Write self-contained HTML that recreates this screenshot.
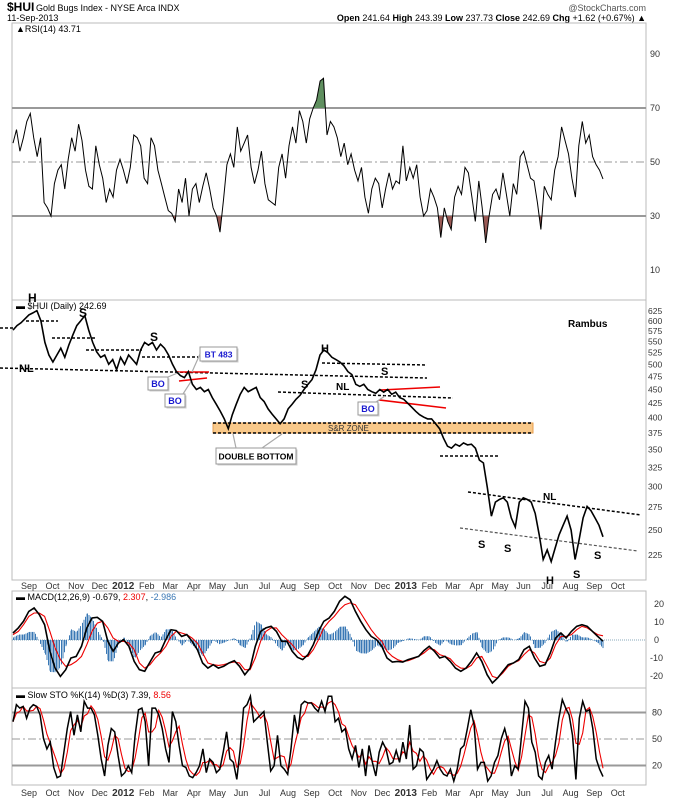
<!DOCTYPE html>
<html><head><meta charset="utf-8">
<style>
html,body{margin:0;padding:0;background:#fff;}
body{width:674px;height:800px;overflow:hidden;font-family:"Liberation Sans",sans-serif;}
svg text{font-family:"Liberation Sans",sans-serif;}
</style></head>
<body>
<svg id="chart" width="674" height="800" viewBox="0 0 674 800" xmlns="http://www.w3.org/2000/svg">
<defs>
<clipPath id="rsiAbove"><rect x="0" y="0" width="674" height="108"/></clipPath>
<clipPath id="rsiBelow"><rect x="0" y="216" width="674" height="90"/></clipPath>
</defs>
<g>
<text x="7" y="11" font-size="12" font-weight="bold" fill="#000">$HUI</text>
<text x="36" y="11" font-size="9" fill="#000">Gold Bugs Index - NYSE Arca INDX</text>
<text x="7" y="21" font-size="9" fill="#000">11-Sep-2013</text>
<text x="646" y="11" font-size="9" fill="#555" text-anchor="end">@StockCharts.com</text>
<text x="646" y="21" font-size="9" fill="#000" text-anchor="end"><tspan font-weight="bold">Open</tspan> 241.64 <tspan font-weight="bold">High</tspan> 243.39 <tspan font-weight="bold">Low</tspan> 237.73 <tspan font-weight="bold">Close</tspan> 242.69 <tspan font-weight="bold">Chg</tspan> +1.62 (+0.67%) ▲</text>
</g>
<rect x="12" y="23" width="634" height="277" fill="none" stroke="#bbb"/>
<rect x="12" y="300" width="634" height="280" fill="none" stroke="#bbb"/>
<rect x="12" y="591" width="634" height="97" fill="none" stroke="#bbb"/>
<rect x="12" y="688" width="634" height="97" fill="none" stroke="#bbb"/>

<g id="rsiG"></g>
<g id="priceAnn"></g>
<g id="priceG"></g>
<g id="macdG"></g>
<g id="stoG"></g>
<g id="axes"></g>
</svg>
<script>
// ---------- DATA ----------
const monthLabels = ["Sep","Oct","Nov","Dec","2012","Feb","Mar","Apr","May","Jun","Jul","Aug","Sep","Oct","Nov","Dec","2013","Feb","Mar","Apr","May","Jun","Jul","Aug","Sep","Oct"];
const priceTicks = [625,600,575,550,525,500,475,450,425,400,375,350,325,300,275,250,225];
const rsiTicks = [90,70,50,30,10];
const macdTicks = [20,10,0,-10,-20];
const stoTicks = [80,50,20];

const priceValues = [577,588,595,605,615,620,626,600,548,520,505,520,535,515,542,565,588,600,613,577,548,527,515,520,500,510,489,515,500,520,510,500,531,548,542,548,531,544,535,520,500,485,477,473,485,460,450,454,446,450,435,423,411,398,382,405,423,441,454,446,450,454,435,428,415,406,398,390,398,415,423,432,439,450,460,469,489,520,531,525,515,510,505,497,485,479,460,456,460,450,446,443,450,445,450,441,445,435,432,425,418,411,405,401,398,398,390,382,367,355,352,358,355,360,357,358,352,335,331,298,265,281,284,286,281,263,253,281,286,284,281,268,245,221,230,219,232,245,255,265,250,221,240,263,276,271,263,255,243];

const rsiValues = [57,62,54,59,65,68,59,52,59,35,33,30,42,47,49,40,51,59,54,64,58,47,41,40,56,49,44,35,40,37,47,51,47,42,48,60,59,56,44,42,59,56,47,42,37,32,31,28,40,35,44,30,40,42,35,41,46,40,33,30,24,36,49,53,48,63,54,57,60,48,42,47,54,42,36,35,34,48,53,44,56,63,57,69,65,57,66,70,73,80,81,60,65,63,59,52,57,49,53,47,43,48,37,31,40,44,42,33,40,46,40,43,42,56,43,48,44,49,37,30,32,40,37,33,22,33,28,25,37,41,38,48,46,37,28,43,33,20,30,38,40,36,46,38,30,42,38,52,54,49,44,43,35,25,41,38,36,47,52,63,58,53,44,37,56,65,57,60,52,49,47,43.7];

const macdValues = [3.9,6.7,10.4,15.9,17.8,14.1,8.5,-6.3,-15.6,-20.2,-16.5,-10,-9.1,-3.5,6.7,12.2,12.6,10.4,-0.7,-6.3,-1.7,0.2,-3.5,-11.9,-16.5,-17.4,-12.2,-7.2,-6.3,0.2,5.7,5.2,2,3,-0.7,-5.4,-12.8,-15.6,-13.7,-15.6,-14.6,-12.8,-11.5,-14.6,-19.3,-15.6,-3.5,4.8,6.7,7.6,4.8,-0.7,-0.7,-6.3,-9.6,-10.9,-8.1,-2.6,4.8,10.4,12.2,15.9,21.5,24.3,22.4,15.9,10.4,5.7,2,0.2,-3.5,-10,-12.2,-11.9,-12.2,-10.9,-10,-9.1,-5.9,-3.5,-6.3,-10,-9.1,-11.9,-15.6,-17.4,-15.6,-11.9,-7.2,-11.9,-19.3,-23.9,-21.1,-17.4,-13.7,-12.8,-10.9,-5.4,-3.5,-10,-14.6,-13.7,-7.2,1.1,3.9,1.1,4.8,7.6,8.5,7.6,4.8,2,-0.679];
const signalValues = [3,4.8,8.5,13.1,15,15,13.1,4.8,-4.4,-10.9,-14.6,-13.7,-11.9,-9.1,-2.6,4.8,9.4,10.4,6.7,1.1,-0.7,-0.7,-1.7,-5.4,-12.8,-15.6,-13.7,-10,-7.2,-3.5,2,4.8,3.9,3,1.1,-1.7,-7.2,-12.8,-13.7,-14.1,-13.7,-12.8,-12.2,-12.8,-16.5,-16.5,-10,-0.7,4.8,6.7,6.7,3,0.2,-2.6,-6.3,-9.1,-9.1,-5.4,0.2,6.7,10.4,13.1,16.9,19.6,20.6,19.6,15,10.4,5.7,2,-0.7,-6.3,-9.1,-10.9,-11.9,-11.5,-10.4,-9.1,-7.2,-4.8,-5.4,-8.1,-9.1,-10.4,-13.7,-15.6,-15.9,-14.1,-10,-9.1,-14.6,-20.2,-21.1,-18.3,-14.6,-12.8,-11.5,-8.1,-5.4,-7.2,-11.9,-12.8,-10,-2.6,2,2,3,5.7,7.6,6.7,4.8,3,2.307];

const stoKValues = [69.6,88.8,85,86.9,73.5,85,88.8,86.9,77.3,50.4,38.8,46.5,17.7,6.2,8.1,35,61.9,81.2,54.2,77.3,58.1,92.7,85,85,77.3,54.2,27.3,8.1,42.7,61.9,58.1,31.2,8.1,11.9,19.6,11.9,54.2,83.1,85,69.6,19.6,85,85,77.3,61.9,38.8,23.5,81.2,69.6,42.7,19.6,17.7,8.1,6.2,11.9,19.6,38.8,11.9,27.3,23.5,11.9,15.8,35,58.1,27.3,23.5,4.2,38.8,85,88.8,98.5,69.6,73.5,77.3,81.2,46.5,13.8,19.6,54.2,19.6,15.8,10,38.8,77.3,56.2,88.8,92.7,90.8,90.8,85,81.2,92.7,81.2,98.5,98.5,69.6,73.5,58.1,61.9,38.8,27.3,42.7,17.7,38.8,8.1,42.7,23.5,8.1,35,46.5,38.8,21.5,23.5,36.9,23.5,46.5,27.3,65.8,15.8,19.6,38.8,35,4.2,10,15.8,25.4,15.8,10,8.1,15.8,2.3,15.8,38.8,42.7,61.9,83.1,65.8,15.8,23.5,23.5,2.3,8.1,23.5,31.2,50.4,61.9,46.5,8.1,19.6,15.8,54.2,92.7,85,46.5,35,8.1,4.2,23.5,31.2,15.8,46.5,73.5,94.6,85,77.3,54.2,4.2,73.5,92.7,81.2,83.1,61.9,27.3,15.8,7.39];

// ---------- SCALES ----------
const X0 = 13, X1 = 603;
function xIdx(i, n){ return X0 + (X1 - X0) * i / (n - 1); }
const monthX0 = 29, monthStep = 23.55;
function xMonth(i){ return monthX0 + monthStep * i; }
function yRsi(v){ return 162 - (v - 50) * 2.7; }
function yPrice(p){ return 530 - 239 * Math.log(p / 250); }
function yMacd(v){ return 640 - v * 1.8; }
function ySto(v){ return 739 - (v - 50) * 0.883; }

const NS = "http://www.w3.org/2000/svg";
function mk(tag, attrs, parent){
  const e = document.createElementNS(NS, tag);
  for (const k in attrs) e.setAttribute(k, attrs[k]);
  parent.appendChild(e);
  return e;
}
function pts(arr, yf){ return arr.map((v,i)=>xIdx(i,arr.length).toFixed(1)+","+yf(v).toFixed(1)).join(" "); }

// ---------- RSI ----------
const rsiG = document.getElementById("rsiG");
[70,30].forEach(v=>{
  const l = mk("line",{x1:12,x2:646,y1:yRsi(v),y2:yRsi(v),stroke:"#999","stroke-width":2},rsiG);
  
  
});
const mid = mk("line",{x1:12,x2:646,y1:yRsi(50),y2:yRsi(50),stroke:"#999","stroke-width":1,"stroke-dasharray":"8,3,2,3"},rsiG);


const rsiN = rsiValues.length;
const areaTop = xIdx(0,rsiN)+","+yRsi(70)+" "+pts(rsiValues,yRsi)+" "+xIdx(rsiN-1,rsiN)+","+yRsi(70);
const ga = mk("polygon",{points:areaTop,fill:"#5f8f5f","clip-path":"url(#rsiAbove)"},rsiG);


const areaBot = xIdx(0,rsiN)+","+yRsi(30)+" "+pts(rsiValues,yRsi)+" "+xIdx(rsiN-1,rsiN)+","+yRsi(30);
const ra = mk("polygon",{points:areaBot,fill:"#9a5a55","clip-path":"url(#rsiBelow)"},rsiG);


const rl = mk("polyline",{points:pts(rsiValues,yRsi),fill:"none",stroke:"#000","stroke-width":1},rsiG);


const rt = mk("text",{x:16,y:32,"font-size":9,fill:"#000"},rsiG);
rt.textContent = "▲RSI(14) 43.71";


rsiTicks.forEach(v=>{
  const t = mk("text",{x:650,y:yRsi(v)+3,"font-size":9,fill:"#333"},rsiG);
  t.textContent = v;
  
  
});

// ---------- PRICE ----------
const priceG = document.getElementById("priceG");
const pl = mk("polyline",{points:pts(priceValues,yPrice),fill:"none",stroke:"#000","stroke-width":1.6},priceG);


const ptl = mk("text",{x:16,y:309,"font-size":9,fill:"#000"},priceG);
ptl.textContent = "▬ $HUI (Daily) 242.69";


priceTicks.forEach(v=>{
  const t = mk("text",{x:648,y:yPrice(v)+3,"font-size":8.5,fill:"#333"},priceG);
  t.textContent = v;
  
  
});

// annotations
const ann = document.getElementById("priceAnn");
const zone = mk("rect",{x:213,y:423,width:320,height:10,fill:"#f9c98a",stroke:"#e8a050"},ann);


const dashed = [[0,328,13,328],[26,321,58,321],[52,338,97,338],[86,350,142,350],[142,357,198,357],[0,368,427,378],[278,392,453,398],[213,423,533,423],[213,433,533,433],[440,456,498,456],[468,492,641,515],[322,363,427,365]];
dashed.forEach(d=>{
  const l = mk("line",{x1:d[0],y1:d[1],x2:d[2],y2:d[3],stroke:"#000","stroke-width":1.5,"stroke-dasharray":"3,2"},ann);
  
  
});
const gl = mk("line",{x1:460,y1:528,x2:638,y2:551,stroke:"#555","stroke-width":1.2,"stroke-dasharray":"3,2"},ann);


[[177,372,209,372],[179,381,207,378],[381,390,440,387],[379,400,446,408]].forEach(d=>{
  const l = mk("line",{x1:d[0],y1:d[1],x2:d[2],y2:d[3],stroke:"#e00","stroke-width":1.6},ann);
  
  
});
const labels = [["H",28,302,12],["S",79,317,12],["S",150,341,12],["H",321,352,11],["S",381,375,11],["S",301,388,11],["NL",19,372,11],["NL",336,390,10],["NL",543,500,10],["S",478,548,11],["S",504,552,11],["S",594,559,11],["H",546,584,11],["S",573,578,11],["Rambus",568,327,10]];
labels.forEach(a=>{
  const t = mk("text",{x:a[1],y:a[2],"font-size":a[3],"font-weight":"bold",fill:"#000"},ann);
  t.textContent = a[0];
  
  
});
const callouts = [["BT 483",200,347,37,14,"#1a1ad0"],["BO",148,377,20,13,"#1a1ad0"],["BO",165,394,20,13,"#1a1ad0"],["BO",358,402,20,13,"#1a1ad0"],["DOUBLE BOTTOM",216,448,80,16,"#000"]];
callouts.forEach(c=>{
  mk("rect",{x:c[1]+1.5,y:c[2]+1.5,width:c[3],height:c[4],fill:"#ccc"},ann);
  const r = mk("rect",{x:c[1],y:c[2],width:c[3],height:c[4],fill:"#fff",stroke:"#999"},ann);
  
  
  const t = mk("text",{x:c[1]+c[3]/2,y:c[2]+c[4]/2+3.5,"font-size":c[0].length>5?8.5:9,"font-weight":"bold",fill:c[5],"text-anchor":"middle"},ann);
  t.textContent = c[0];
  
  
});
[[236,448,233,434],[262,448,282,434],[168,377,180,372],[183,394,192,380],[200,354,192,372],[376,402,385,396]].forEach(d=>{
  mk("line",{x1:d[0],y1:d[1],x2:d[2],y2:d[3],stroke:"#aaa","stroke-width":1.2},ann);
});
const srt = mk("text",{x:328,y:431,"font-size":8,fill:"#333"},ann);
srt.textContent = "S&R ZONE";



// ---------- MACD ----------
const macdG = document.getElementById("macdG");
const mz = mk("line",{x1:12,x2:646,y1:yMacd(0),y2:yMacd(0),stroke:"#8ab","stroke-width":1,"stroke-dasharray":"1,1"},macdG);


const histValues = macdValues.map((v,i)=>v - signalValues[i]);
const nH = histValues.length;
for (let i = 0; i < nH - 1; i++) {
  const xa = xIdx(i,nH), xb = xIdx(i+1,nH);
  for (let x = Math.ceil(xa); x < xb; x += 1.5) {
    const t = (x - xa) / (xb - xa);
    const h = (histValues[i]*(1-t) + histValues[i+1]*t) * 1.6;
    const y0 = yMacd(0), y1 = yMacd(h);
    const b = mk("rect",{x:x,y:Math.min(y0,y1),width:1,height:Math.abs(y1-y0),fill:"#3a78b5"},macdG);
    
    
  }
}
const sl = mk("polyline",{points:pts(signalValues,yMacd),fill:"none",stroke:"#e00","stroke-width":1.1},macdG);


const ml = mk("polyline",{points:pts(macdValues,yMacd),fill:"none",stroke:"#000","stroke-width":1.6},macdG);


const mt = mk("text",{x:16,y:600,"font-size":9,fill:"#000"},macdG);
mt.innerHTML = '▬ MACD(12,26,9) -0.679, <tspan fill="#e00">2.307</tspan>, <tspan fill="#3a78b5">-2.986</tspan>';


macdTicks.forEach(v=>{
  const t = mk("text",{x:v<0?650:654,y:yMacd(v)+3,"font-size":9,fill:"#333"},macdG);
  t.textContent = v;
  
  
});

// ---------- STO ----------
const stoG = document.getElementById("stoG");
[80,20].forEach(v=>{
  const l = mk("line",{x1:12,x2:646,y1:ySto(v),y2:ySto(v),stroke:"#999","stroke-width":2},stoG);
  
  
});
const sm = mk("line",{x1:12,x2:646,y1:ySto(50),y2:ySto(50),stroke:"#999","stroke-width":1,"stroke-dasharray":"8,3,2,3"},stoG);


const stoDValues = stoKValues.map((v,i)=>{ const a=stoKValues.slice(Math.max(0,i-2),i+1); return a.reduce((s,x)=>s+x,0)/a.length; });
const dl = mk("polyline",{points:pts(stoDValues,ySto),fill:"none",stroke:"#e00","stroke-width":1.1},stoG);


const kl = mk("polyline",{points:pts(stoKValues,ySto),fill:"none",stroke:"#000","stroke-width":1.5},stoG);


const st = mk("text",{x:16,y:698,"font-size":9,fill:"#000"},stoG);
st.innerHTML = '▬ Slow STO %K(14) %D(3) 7.39, <tspan fill="#e00">8.56</tspan>';


stoTicks.forEach(v=>{
  const t = mk("text",{x:652,y:ySto(v)+3,"font-size":9,fill:"#333"},stoG);
  t.textContent = v;
  
  
});

// ---------- X AXES ----------
const axes = document.getElementById("axes");
[589, 796].forEach((yy,k)=>{
  monthLabels.forEach((m,i)=>{
    const bold = /^\d{4}$/.test(m);
    const t = mk("text",{x:xMonth(i),y:yy,"font-size":bold?10:9,"font-weight":bold?"bold":"normal",fill:"#333","text-anchor":"middle"},axes);
    t.textContent = m;
    
    
  });
});
</script>
</body></html>
